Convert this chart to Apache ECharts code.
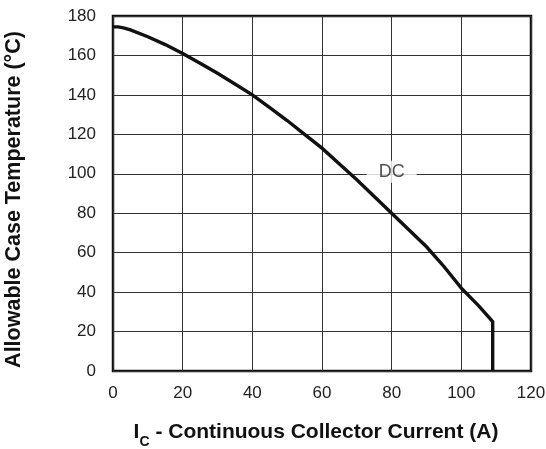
<!DOCTYPE html>
<html><head><meta charset="utf-8">
<script src="https://cdn.jsdelivr.net/npm/echarts@6/dist/echarts.min.js"></script>
<style>html,body{margin:0;padding:0;background:#fff}#c{width:546px;height:449px}</style>
</head><body><div id="c"></div>
<script>
const currentA = [0, 1.5, 3, 5, 10, 15, 20, 25, 30, 35, 40, 45, 50, 55, 60, 65, 70, 75, 80, 85, 90, 95, 100, 105, 109, 109];
const tempC = [174.5, 174.5, 174, 173, 169.5, 165.5, 161, 156, 151, 145.5, 140, 133.5, 127, 120, 113, 105, 97, 88.5, 80, 71.5, 63, 53, 42, 33, 25, 0];
const labelText = 'DC';
const labelPos = [80, 101];
const xTicks = [0, 20, 40, 60, 80, 100, 120];
const yTicks = [0, 20, 40, 60, 80, 100, 120, 140, 160, 180];

const chart = echarts.init(document.getElementById('c'), null, {renderer: 'canvas'});
const font = 'Liberation Sans, Arial, sans-serif';
chart.setOption({
  animation: false,
  grid: {left: 113, right: 15, top: 16, bottom: 78, show: true, borderColor: '#111', borderWidth: 2.5,
    backgroundColor: 'transparent', containLabel: false, outerBoundsMode: 'none'},
  xAxis: {
    type: 'value', min: xTicks[0], max: xTicks[xTicks.length-1], interval: 20,
    axisLine: {show: false}, axisTick: {show: false},
    splitLine: {show: true, lineStyle: {color: '#333', width: 1}},
    axisLabel: {color: '#222', fontSize: 17, fontFamily: font, margin: 14},
    name: '{a|I}{s|C}{a| - Continuous Collector Current (A)}',
    nameLocation: 'middle', nameGap: 48,
    nameTextStyle: {
      padding: [0, 12, 0, 0],
      rich: {
        a: {fontSize: 21, fontWeight: 'bold', fontFamily: font, color: '#111', verticalAlign: 'bottom', lineHeight: 24},
        s: {fontSize: 14, fontWeight: 'bold', fontFamily: font, color: '#111', verticalAlign: 'bottom', lineHeight: 24, padding: [0, 0, -6, 0]}
      }
    }
  },
  yAxis: {
    type: 'value', min: yTicks[0], max: yTicks[yTicks.length-1], interval: 20,
    axisLine: {show: false}, axisTick: {show: false},
    splitLine: {show: true, lineStyle: {color: '#333', width: 1}},
    axisLabel: {color: '#222', fontSize: 17, fontFamily: font, margin: 17},
    name: 'Allowable Case Temperature (°C)',
    nameLocation: 'middle', nameGap: 88,
    nameTextStyle: {fontSize: 21.5, fontWeight: 'bold', fontFamily: font, color: '#111', padding: [0, 12, 0, 0]}
  },
  series: [
    {
      type: 'line', data: currentA.map((x, i) => [x, tempC[i]]),
      showSymbol: false, smooth: false,
      lineStyle: {color: '#111', width: 3.4, join: 'miter'}
    },
    {
      type: 'scatter', data: [labelPos], symbolSize: 0,
      label: {show: true, position: 'inside', formatter: labelText, color: '#222', fontSize: 18, fontFamily: font,
        backgroundColor: '#fff', padding: [2, 12, 2, 12]}
    }
  ]
});
</script></body></html>
